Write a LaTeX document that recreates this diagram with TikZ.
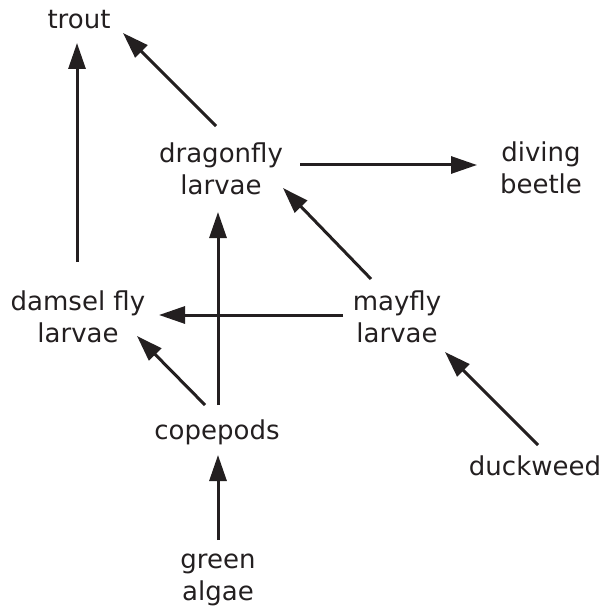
\documentclass[tikz,border=0pt]{standalone}
\usepackage{fontspec}
\setmainfont{DejaVu Sans}
\usetikzlibrary{arrows.meta}
\definecolor{ink}{HTML}{231F20}
\tikzset{
  lbl/.style={align=center, inner sep=0pt, text=ink, font=\fontsize{26}{32}\selectfont},
  arr/.style={-{Triangle[length=26pt,width=17pt]}, line width=3pt, draw=ink}
}
\begin{document}
\begin{tikzpicture}[x=1pt,y=-1pt]
\useasboundingbox (0,0) rectangle (605,612);
\node[lbl] (trout) at (79,20) {trout};
\node[lbl] (drag) at (221,169) {dragonfly\\larvae};
\node[lbl] (beetle) at (541,168) {diving\\beetle};
\node[lbl] (damsel) at (78,317) {damsel fly\\larvae};
\node[lbl] (mayfly) at (397,317) {mayfly\\larvae};
\node[lbl] (cope) at (217,432) {copepods};
\node[lbl] (duck) at (535,466) {duckweed};
\node[lbl] (algae) at (218,580) {green\\algae};
\draw[arr] ([shift={(-1,-55)}]damsel.center) -- ([shift={(-2,23)}]trout.center);
\draw[arr] ([shift={(-5,-43)}]drag.center) -- ([shift={(44,13)}]trout.center);
\draw[arr] ([shift={(79,-4)}]drag.center) -- ([shift={(-64,-3)}]beetle.center);
\draw[arr] ([shift={(-26,-38)}]mayfly.center) -- ([shift={(62,19)}]drag.center);
\draw[arr] ([shift={(1,-27)}]cope.center) -- ([shift={(-3,43)}]drag.center);
\draw[arr] ([shift={(-54,-2)}]mayfly.center) -- ([shift={(81,-2)}]damsel.center);
\draw[arr] ([shift={(-12,-27)}]cope.center) -- ([shift={(59,19)}]damsel.center);
\draw[arr] ([shift={(3,-21)}]duck.center) -- ([shift={(48,35)}]mayfly.center);
\draw[arr] ([shift={(0,-40)}]algae.center) -- ([shift={(1,23)}]cope.center);
\end{tikzpicture}
\end{document}
